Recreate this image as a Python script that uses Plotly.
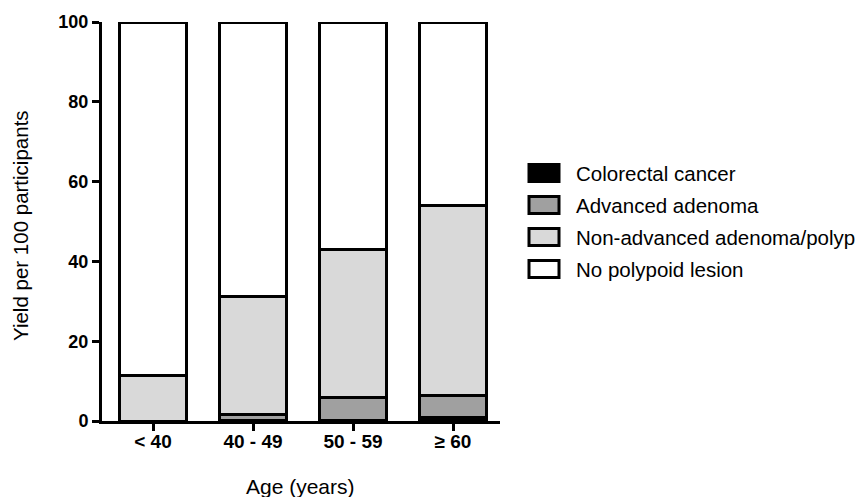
import plotly.graph_objects as go

# ---- data ----
age_groups = ["< 40", "40 - 49", "50 - 59", "≥ 60"]
colorectal_cancer = [0.0, 0.1, 0.2, 1.0]
advanced_adenoma = [0.0, 1.5, 5.6, 5.4]
non_advanced = [11.3, 29.5, 37.1, 47.5]
no_polypoid = [round(100 - a - b - c, 1) for a, b, c in zip(colorectal_cancer, advanced_adenoma, non_advanced)]

series_names = ["Colorectal cancer", "Advanced adenoma", "Non-advanced adenoma/polyp", "No polypoid lesion"]
series_values = [colorectal_cancer, advanced_adenoma, non_advanced, no_polypoid]
series_colors = ["#000000", "#a0a0a0", "#d9d9d9", "#ffffff"]

y_ticks = [0, 20, 40, 60, 80, 100]

FONT = "Liberation Sans, Arial, Helvetica, sans-serif"

# page has an 8px body margin: figure placed at (8, 8)
OFF = 8
W, H = 867 - OFF, 497 - OFF
# plot area in page pixels
PL, PR, PT, PB = 102, 500, 22, 421
L, T = PL - OFF, PT - OFF
R, B = W - (PR - OFF), H - (PB - OFF)
pw, ph = W - L - R, H - T - B


def px_x(x):
    return (x - PL) / pw


def px_y(y):
    return (PB - y) / ph


fig = go.Figure()
for name, vals, col in zip(series_names, series_values, series_colors):
    fig.add_trace(go.Bar(
        x=age_groups, y=vals, name=name,
        marker=dict(color=col, line=dict(color="black", width=3)),
        showlegend=False,
    ))

# custom legend (large swatches like the reference)
shapes = []
annotations = []
for i, (name, col) in enumerate(zip(series_names, series_colors)):
    cy = 173 + i * 32
    shapes.append(dict(
        type="rect", xref="paper", yref="paper",
        x0=px_x(529), x1=px_x(559), y0=px_y(cy - 8.5), y1=px_y(cy + 8.5),
        fillcolor=col, line=dict(color="black", width=3),
    ))
    annotations.append(dict(
        xref="paper", yref="paper", x=px_x(574), y=px_y(cy),
        xanchor="left", yanchor="middle", text=name, showarrow=False,
        font=dict(family=FONT, size=20.5, color="black"),
    ))

# axis titles
annotations.append(dict(
    xref="paper", yref="paper", x=px_x(300), y=px_y(486),
    xanchor="center", yanchor="middle", text="Age (years)", showarrow=False,
    font=dict(family=FONT, size=21, color="black"),
))
annotations.append(dict(
    xref="paper", yref="paper", x=px_x(20), y=px_y(226),
    xanchor="center", yanchor="middle", text="Yield per 100 participants",
    textangle=-90, showarrow=False,
    font=dict(family=FONT, size=20.5, color="black"),
))

fig.update_layout(
    width=W, height=H,
    margin=dict(l=L, r=R, t=T, b=B, autoexpand=False),
    barmode="stack",
    bargap=0.33,
    plot_bgcolor="white",
    paper_bgcolor="white",
    shapes=shapes,
    annotations=annotations,
    font=dict(family=FONT, color="black"),
)
fig.update_xaxes(
    type="category", range=[-0.51, 3.47], automargin=False,
    showline=True, linecolor="black", linewidth=3,
    ticks="outside", ticklen=7, tickwidth=3, tickcolor="black",
    ticklabelstandoff=-6,
    tickfont=dict(family=FONT, size=19, color="black", weight="bold"),
    showgrid=False, zeroline=False,
)
fig.update_yaxes(
    range=[0, 100], tickvals=y_ticks, automargin=False,
    showline=True, linecolor="black", linewidth=3,
    ticks="outside", ticklen=7, tickwidth=3, tickcolor="black",
    tickfont=dict(family=FONT, size=18, color="black", weight="bold"),
    showgrid=False, zeroline=False,
)

fig.write_html("out.html")
